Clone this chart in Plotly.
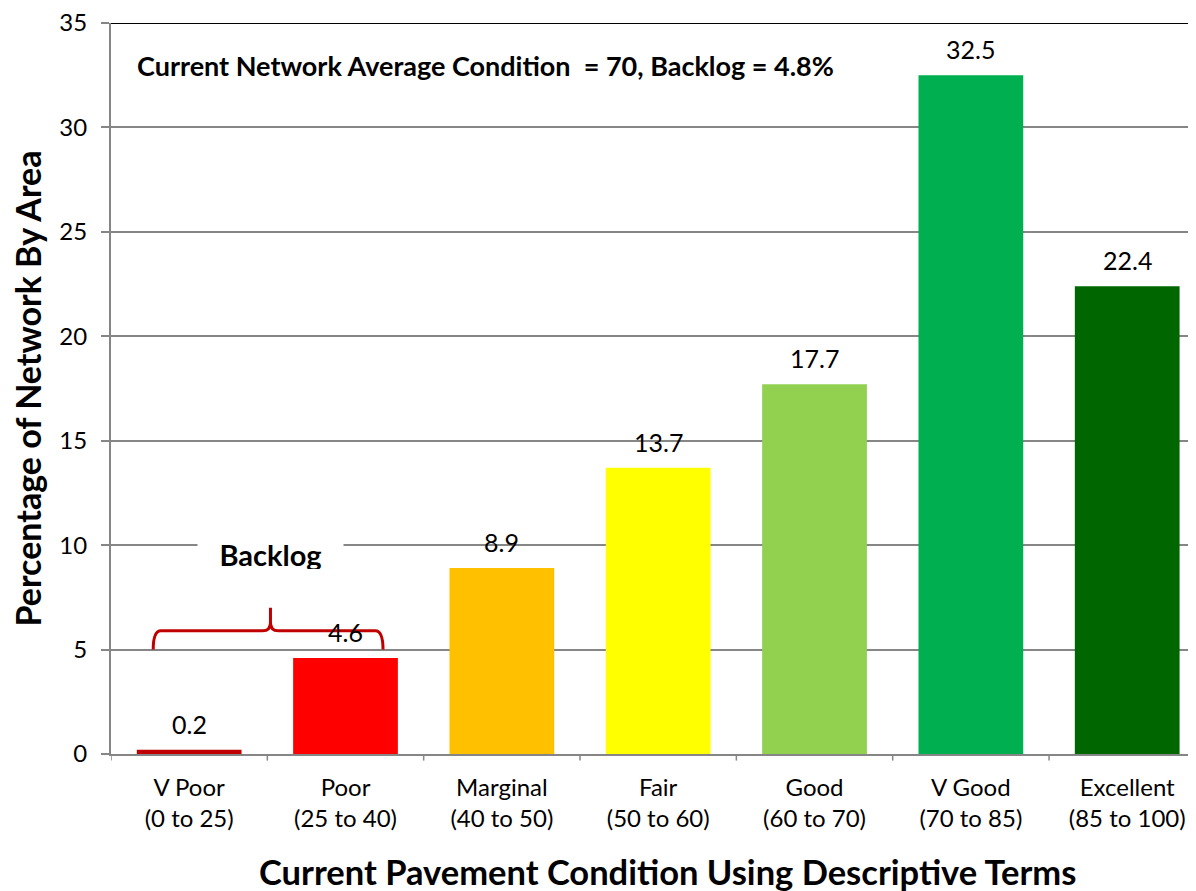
import plotly.graph_objects as go

categories = ["V Poor<br>(0 to 25)", "Poor<br>(25 to 40)", "Marginal<br>(40 to 50)",
              "Fair<br>(50 to 60)", "Good<br>(60 to 70)", "V Good<br>(70 to 85)",
              "Excellent<br>(85 to 100)"]
values = [0.2, 4.6, 8.9, 13.7, 17.7, 32.5, 22.4]
bar_colors = ["#C00000", "#FF0000", "#FFC000", "#FFFF00", "#92D050", "#00B050", "#006600"]
y_ticks = [0, 5, 10, 15, 20, 25, 30, 35]

FONT = "Lato"
GRID = "#868686"

# the page has an 8px body margin, so the plot box is placed with that in mind
L, R, T, B = 103, 8, 15, 145
W, H = 1196, 891
PW, PH = W - L - R, H - T - B

fig = go.Figure()
fig.add_trace(go.Bar(
    x=list(range(len(categories))), y=values,
    marker=dict(color=bar_colors, line=dict(width=0)),
    width=0.67,
    showlegend=False,
))

# value labels above the bars
for i, v in enumerate(values):
    fig.add_annotation(x=i, y=v, text=str(v), showarrow=False,
                       yanchor="bottom", yshift=9,
                       font=dict(family=FONT, size=25, color="black"))

fig.add_annotation(x=0.022, xref="paper", y=32.95, yref="y",
                   text="<b>Current Network Average Condition  = 70, Backlog = 4.8%</b>",
                   showarrow=False, xanchor="left", yanchor="middle",
                   font=dict(family=FONT, size=27, color="black"))

fig.add_annotation(x=0.52, y=9.6, text="<b>Backlog</b>", showarrow=False,
                   bgcolor="white", borderpad=0, width=145, height=30,
                   font=dict(family=FONT, size=29, color="black"))

# axis titles
fig.add_annotation(x=(19 - L) / PW, xref="paper", xanchor="center",
                   y=0.5, yref="paper", yanchor="middle",
                   text="<b>Percentage of Network By Area</b>", textangle=-90,
                   showarrow=False, font=dict(family=FONT, size=34, color="black"))
fig.add_annotation(x=(659 - L) / PW, xref="paper", xanchor="center",
                   y=-(863 - (H - B)) / PH, yref="paper", yanchor="middle",
                   text="<b>Current Pavement Condition Using Descriptive Terms</b>",
                   showarrow=False, font=dict(family=FONT, size=34.5, color="black"))

# curly brace over the backlog bars
xl, xm, xr = -0.23, 0.52, 1.24
yb, yh, yp = 5.0, 5.9, 7.0
dx, dy = 0.05, 0.4
brace = (f"M {xl},{yb} Q {xl},{yh} {xl+dx},{yh} L {xm-dx},{yh} "
         f"Q {xm},{yh} {xm},{yh+dy} L {xm},{yp} "
         f"M {xm},{yh+dy} Q {xm},{yh} {xm+dx},{yh} L {xr-dx},{yh} "
         f"Q {xr},{yh} {xr},{yb}")
fig.add_shape(type="path", path=brace, xref="x", yref="y",
              line=dict(color="#C00000", width=3))

# dark top border line
fig.add_shape(type="line", xref="paper", x0=0, x1=1, yref="y", y0=35, y1=35,
              line=dict(color="black", width=2))

fig.update_layout(
    width=W, height=H,
    margin=dict(l=L, r=R, t=T, b=B),
    plot_bgcolor="white", paper_bgcolor="white",
    font=dict(family=FONT, color="black"),
    xaxis=dict(
        tickmode="array", tickvals=list(range(len(categories))), ticktext=categories,
        range=[-0.5, 6.44], automargin=False,
        showgrid=False, showline=True, linecolor=GRID, linewidth=2,
        ticks="", ticklabelstandoff=11,
        tickfont=dict(family=FONT, size=24, color="black"),
        zeroline=False,
    ),
    yaxis=dict(
        range=[0, 35], tickvals=y_ticks, automargin=False,
        showgrid=True, gridcolor=GRID, gridwidth=1.5,
        showline=True, linecolor=GRID, linewidth=2,
        ticks="outside", ticklen=8, tickcolor=GRID, tickwidth=1.5,
        ticklabelstandoff=9, ticklabeloverflow="allow",
        tickfont=dict(family=FONT, size=24, color="black"),
        zeroline=False,
    ),
)

# category boundary ticks on the x axis
for b in [i + 0.5 for i in range(-1, len(categories))]:
    fig.add_shape(type="line", xref="x", yref="paper", x0=b, x1=b, y0=0, y1=-0.009,
                  line=dict(color=GRID, width=1.5))

fig.write_html("out.html")
